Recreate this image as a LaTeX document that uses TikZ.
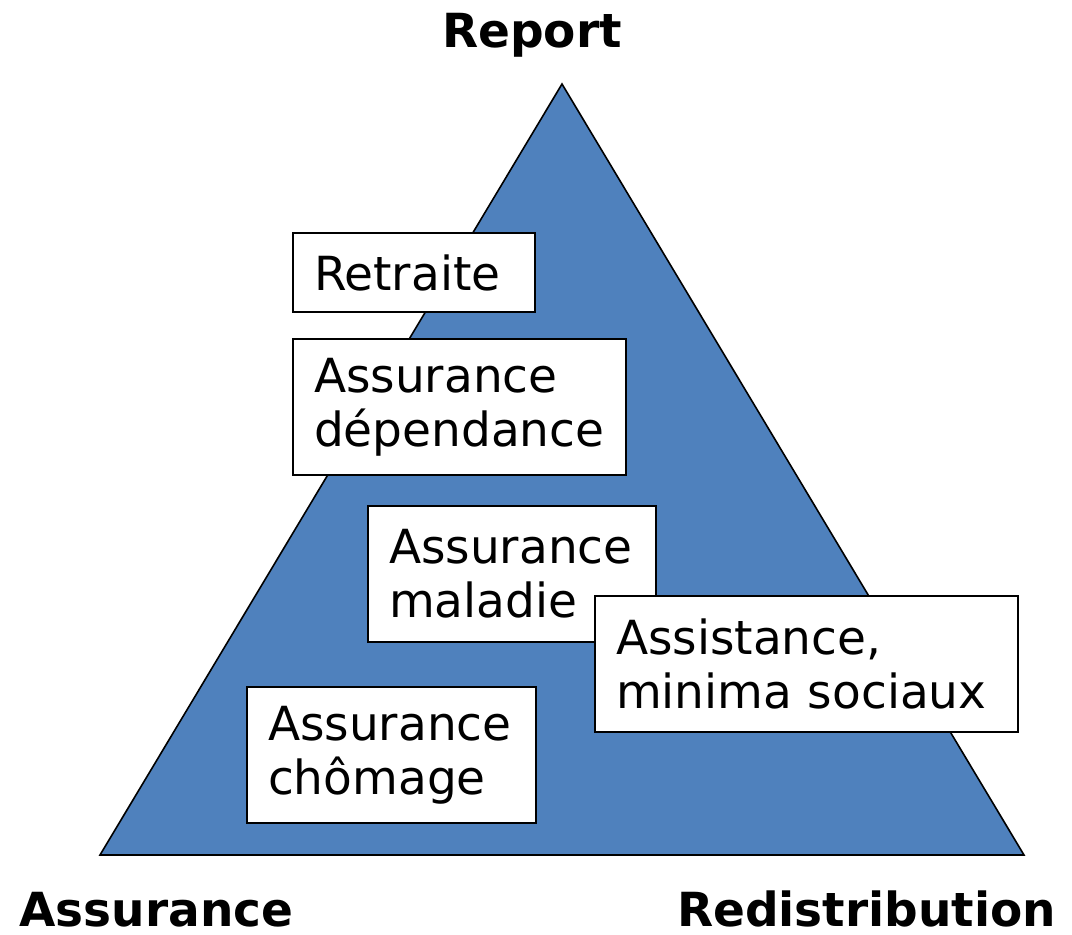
\documentclass[tikz,border=0pt]{standalone}
\usepackage{fontspec}
\setmainfont{DejaVu Sans}
\usepackage{tikz}
\usetikzlibrary{positioning}
\definecolor{PyramidBlue}{HTML}{4F81BD}

\begin{document}
\begin{tikzpicture}[x=0.5pt, y=-0.5pt,
  every node/.style={font=\fontsize{23.5}{27}\selectfont},
  pillar/.style={draw=black, line width=0.9pt, fill=white, align=left, inner xsep=10.5pt, inner ysep=0pt},
  pole/.style={anchor=base, inner sep=1pt, font=\fontsize{23.5}{27}\selectfont\bfseries}]
\useasboundingbox (0,0) rectangle (1072,934);
\coordinate (top) at (562,84);
\coordinate (left) at (100,855);
\coordinate (right) at (1024,855);
\filldraw[fill=PyramidBlue, draw=black, line width=0.8pt] (top) -- (left) -- (right) -- cycle;
\node[pillar, text width=100pt, minimum height=39.5pt] (retraite) at (414,272.5) {Retraite};
\node[pillar, text width=145.5pt, minimum height=68pt] (dependance) at (459.5,407) {Assurance\\dépendance};
\node[pillar, text width=123pt, minimum height=68pt] (maladie) at (512,574) {Assurance\\maladie};
\node[pillar, text width=190.5pt, minimum height=68pt] (assistance) at (806.5,664) {Assistance,\\minima sociaux};
\node[pillar, text width=123.5pt, minimum height=68pt] (chomage) at (391.5,755) {Assurance\\chômage};
\node[pole] (report) at (532,47) {Report};
\node[pole] (assurance) at (156.5,926) {Assurance};
\node[pole] (redistribution) at (866.5,926) {Redistribution};
\end{tikzpicture}
\end{document}
